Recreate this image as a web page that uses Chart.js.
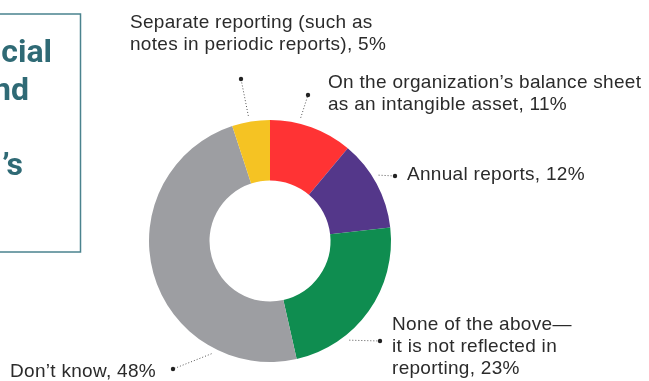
<!DOCTYPE html>
<html>
<head>
<meta charset="utf-8">
<script src="https://cdn.jsdelivr.net/npm/chart.js@4/dist/chart.umd.min.js"></script>
<style>
  html, body { margin: 0; padding: 0; background: #fff; }
  canvas { display: block; }
</style>
</head>
<body>
<canvas id="reportingChart" width="649" height="381"></canvas>
<script>
// Where the value shows up, clockwise from 12 o'clock
const categories = [
  "On the organization’s balance sheet as an intangible asset",
  "Annual reports",
  "None of the above—it is not reflected in reporting",
  "Don’t know",
  "Separate reporting (such as notes in periodic reports)"
];
const shares = [11, 12, 23, 48, 5];
const sliceColors = ["#ff3334", "#54378a", "#0f8d50", "#9d9ea2", "#f5c323"];

// Callout text, one array of lines per slice (value appended below)
const labelLines = [
  ["On the organization’s balance sheet", "as an intangible asset, "],
  ["Annual reports, "],
  ["None of the above—", "it is not reflected in", "reporting, "],
  ["Don’t know, "],
  ["Separate reporting (such as", "notes in periodic reports), "]
];

// Callout placement: where along the slice the leader starts, the dot, the text origin
const callouts = [
  { frac: 0.35, dot: [308, 95],  text: [328, 88] },
  { frac: 0.43, dot: [395, 176], text: [407, 180] },
  { frac: 0.69, dot: [380, 341], text: [392, 330] },
  { frac: 0.23, dot: [173, 369], text: [10, 377] },
  { frac: 0.46, dot: [241, 79],  text: [130, 28] }
];

// Piece of the side panel title that sits off the left edge
const sideTitle = ["cial", "nd", "", "’s"];

const calloutPlugin = {
  id: 'callouts',
  afterDraw(chart) {
    const ctx = chart.ctx;
    const arcs = chart.getDatasetMeta(0).data;

    // side panel
    ctx.save();
    ctx.strokeStyle = "#4a838e";
    ctx.lineWidth = 1.5;
    ctx.strokeRect(-10, 14, 90.5, 238);
    ctx.fillStyle = "#2f6a75";
    ctx.font = "bold 32px Roboto, 'Liberation Sans', sans-serif";
    ctx.textAlign = "right";
    ctx.textBaseline = "alphabetic";
    const rightEdges = [52, 29, 0, 23];
    sideTitle.forEach((t, i) => {
      if (t) ctx.fillText(t, rightEdges[i], 62 + i * 37.7);
    });
    ctx.restore();

    arcs.forEach((arc, i) => {
      const c = callouts[i];
      const p = arc.getProps(['x', 'y', 'startAngle', 'endAngle', 'outerRadius'], true);
      const a = p.startAngle + (p.endAngle - p.startAngle) * c.frac;
      const r = p.outerRadius + 6;
      const x0 = p.x + Math.cos(a) * r;
      const y0 = p.y + Math.sin(a) * r;

      ctx.save();
      ctx.strokeStyle = "#555";
      ctx.lineWidth = 1;
      ctx.setLineDash([1, 2]);
      ctx.beginPath();
      ctx.moveTo(x0, y0);
      ctx.lineTo(c.dot[0], c.dot[1]);
      ctx.stroke();
      ctx.setLineDash([]);
      ctx.fillStyle = "#222";
      ctx.beginPath();
      ctx.arc(c.dot[0], c.dot[1], 2.2, 0, Math.PI * 2);
      ctx.fill();

      ctx.fillStyle = "#2b2b2b";
      ctx.font = "19px 'Liberation Sans', Arial, sans-serif";
      ctx.letterSpacing = "0.3px";
      ctx.textAlign = "left";
      ctx.textBaseline = "alphabetic";
      const lines = labelLines[i].slice();
      lines[lines.length - 1] += shares[i] + "%";
      lines.forEach((ln, j) => {
        ctx.fillText(ln, c.text[0], c.text[1] + j * 21.8);
      });
      ctx.restore();
    });
  }
};

new Chart(document.getElementById('reportingChart'), {
  type: 'doughnut',
  data: {
    labels: categories,
    datasets: [{
      data: shares,
      backgroundColor: sliceColors,
      borderWidth: 0
    }]
  },
  options: {
    responsive: false,
    animation: false,
    events: [],
    cutout: '50%',
    layout: { padding: { left: 149, right: 258, top: 120, bottom: 19 } },
    plugins: {
      legend: { display: false },
      tooltip: { enabled: false }
    }
  },
  plugins: [calloutPlugin]
});
</script>
</body>
</html>
